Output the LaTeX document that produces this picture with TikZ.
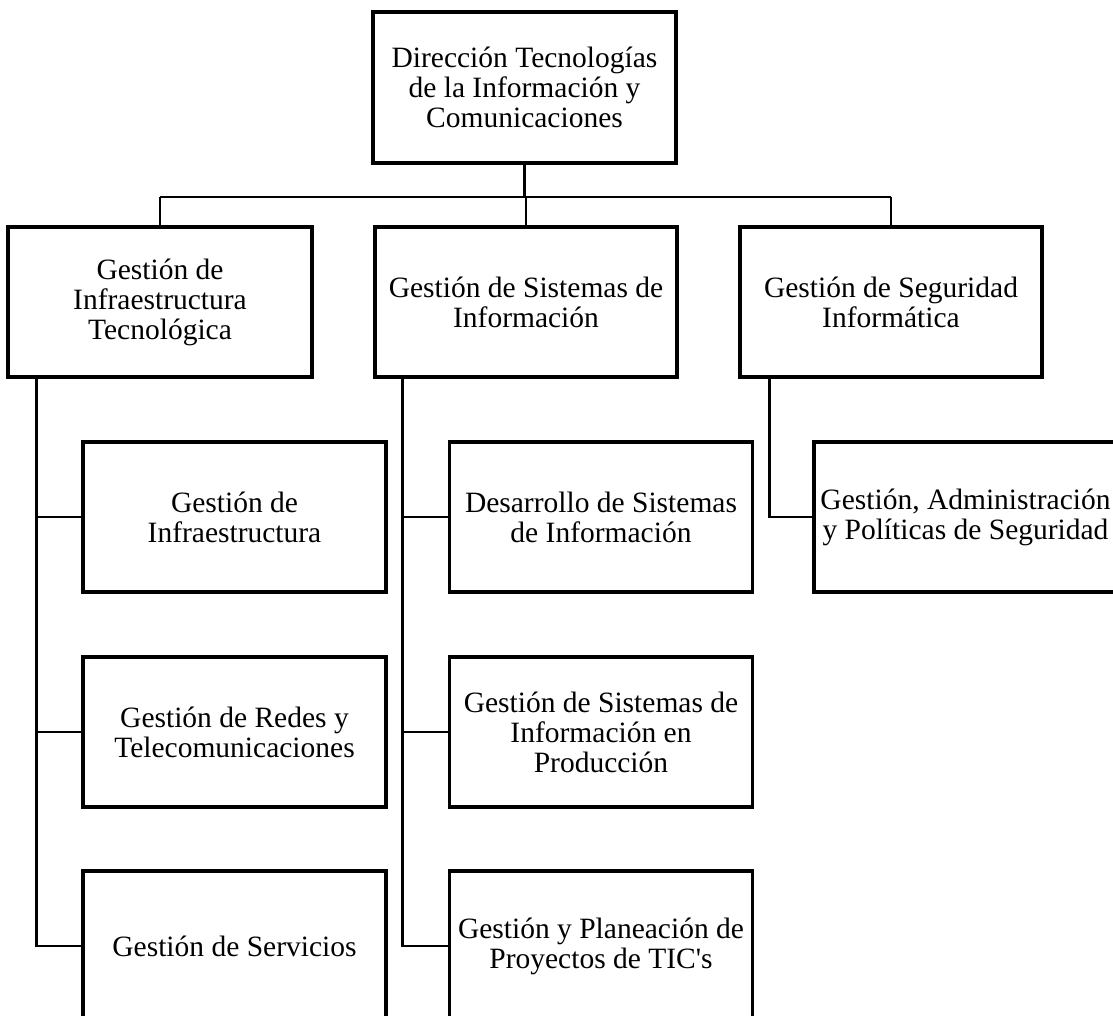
\documentclass[tikz,border=0pt]{standalone}
\usepackage{fontspec}
\setmainfont{Liberation Serif}[Ligatures=TeXOff]
\begin{document}
\begin{tikzpicture}[x=1pt,y=-1pt,
  box/.style={draw=black,line width=3.5pt,fill=white,align=center,inner sep=0pt,
    minimum width=303pt,minimum height=150pt,
    font=\fontsize{29.5}{30}\selectfont},
  conn/.style={draw=black,line width=2.6pt},
  bus/.style={draw=black,line width=2.2pt}]
\useasboundingbox (0,0) rectangle (1113,1016);
\clip (0,0) rectangle (1113,1016);
% top
\node[box,minimum height=151pt] (top) at (524.5,87.5) {Dirección Tecnologías\\de la Información y\\Comunicaciones};
% level 2
\node[box,minimum width=304pt] (g1) at (160,302) {Gestión de\\Infraestructura\\Tecnológica};
\node[box,minimum width=302pt] (g2) at (526,302) {Gestión de Sistemas de\\Información};
\node[box,minimum width=302pt] (g3) at (891,302) {Gestión de Seguridad\\Informática};
% level 3
\node[box] (s11) at (234.5,517) {Gestión de\\Infraestructura};
\node[box] (s12) at (234.5,732) {Gestión de Redes y\\Telecomunicaciones};
\node[box] (s13) at (234.5,946) {Gestión de Servicios};
\node[box] (s21) at (601,517) {Desarrollo de Sistemas\\de Información};
\node[box] (s22) at (601,732) {Gestión de Sistemas de\\Información en\\Producción};
\node[box] (s23) at (601,946) {Gestión y Planeación de\\Proyectos de TIC's};
\node[box] (s31) at (965.5,517) {Gestión, Administración\\y Políticas de Seguridad};
% connectors top to level 2
\coordinate (busy) at (0,197);
\draw[conn] (top.south) -- (top.south |- busy);
\draw[bus] (g1.north |- busy) -- (g3.north |- busy);
\draw[conn] (g1.north |- busy) -- (g1.north);
\draw[conn] (g2.north |- busy) -- (g2.north);
\draw[conn] (g3.north |- busy) -- (g3.north);
% level 2 to level 3
\draw[conn] ([xshift=30pt]g1.south west) |- (s13.west);
\draw[conn] ([xshift=30pt]g1.south west) |- (s11.west);
\draw[conn] ([xshift=30pt]g1.south west) |- (s12.west);
\draw[conn] ([xshift=29pt]g2.south west) |- (s23.west);
\draw[conn] ([xshift=29pt]g2.south west) |- (s21.west);
\draw[conn] ([xshift=29pt]g2.south west) |- (s22.west);
\draw[conn] ([xshift=31pt]g3.south west) |- (s31.west);
\end{tikzpicture}
\end{document}
